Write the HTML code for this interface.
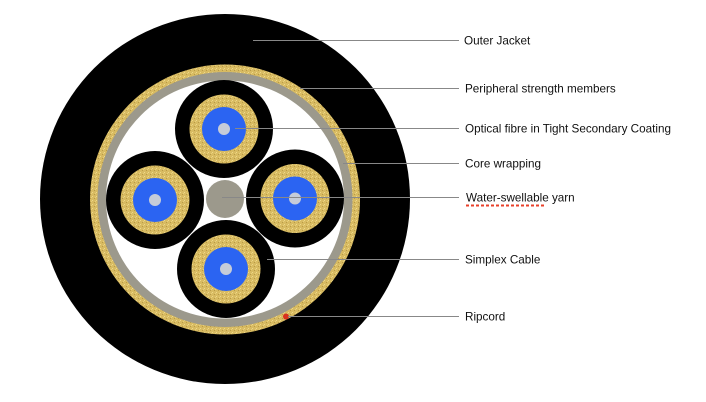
<!DOCTYPE html>
<html><head><meta charset="utf-8"><style>
html,body{margin:0;padding:0;background:#fff;width:706px;height:402px;overflow:hidden}
svg{display:block}
text{font-family:"Liberation Sans",Arial,sans-serif;font-size:11.7px;fill:#111}
</style></head><body>
<svg width="706" height="402" viewBox="0 0 706 402">
<defs>
<pattern id="sand" width="4" height="4" patternUnits="userSpaceOnUse">
<rect width="4" height="4" fill="#d8bb62"/>
<rect x="0" y="0" width="1" height="1" fill="#efd98a"/>
<rect x="2" y="2" width="1" height="1" fill="#b99a45"/>
<rect x="3" y="1" width="1" height="1" fill="#e8cf7a"/>
</pattern>
</defs>
<circle cx="225" cy="199" r="185" fill="#000"/>
<circle cx="225" cy="199.5" r="135" fill="url(#sand)"/>
<circle cx="225" cy="199.5" r="127.5" fill="#9c998c"/>
<circle cx="225" cy="199.5" r="119" fill="#fff"/>
<circle cx="225" cy="199" r="19" fill="#9c998c"/>
<g>
<circle cx="224" cy="129" r="49" fill="#000"/><circle cx="224" cy="129" r="34.5" fill="url(#sand)"/><circle cx="224" cy="129" r="22" fill="#2b64f2"/><circle cx="224" cy="129" r="6" fill="#c6ccd8"/>
<circle cx="155" cy="200" r="49" fill="#000"/><circle cx="155" cy="200" r="34.5" fill="url(#sand)"/><circle cx="155" cy="200" r="22" fill="#2b64f2"/><circle cx="155" cy="200" r="6" fill="#c6ccd8"/>
<circle cx="295" cy="198.5" r="49" fill="#000"/><circle cx="295" cy="198.5" r="34.5" fill="url(#sand)"/><circle cx="295" cy="198.5" r="22" fill="#2b64f2"/><circle cx="295" cy="198.5" r="6" fill="#c6ccd8"/>
<circle cx="226" cy="269" r="49" fill="#000"/><circle cx="226" cy="269" r="34.5" fill="url(#sand)"/><circle cx="226" cy="269" r="22" fill="#2b64f2"/><circle cx="226" cy="269" r="6" fill="#c6ccd8"/>
</g>
<circle cx="286" cy="316.5" r="3" fill="#d8321e"/>
<g stroke="#888" stroke-width="1">
<line x1="253" y1="40.5" x2="459" y2="40.5"/>
<line x1="300" y1="88.5" x2="459" y2="88.5"/>
<line x1="235" y1="128.5" x2="459" y2="128.5"/>
<line x1="343" y1="163.5" x2="459" y2="163.5"/>
<line x1="222" y1="197.5" x2="459" y2="197.5"/>
<line x1="267" y1="259.5" x2="459" y2="259.5"/>
<line x1="288" y1="316.5" x2="459" y2="316.5"/>
</g>
<text x="464" y="44.5">Outer Jacket</text>
<text x="465" y="92.5">Peripheral strength members</text>
<text x="465" y="132.5">Optical fibre in Tight Secondary Coating</text>
<text x="465" y="167.5">Core wrapping</text>
<text x="466" y="201.5">Water-swellable yarn</text>
<line x1="466" y1="205.5" x2="546" y2="205.5" stroke="#e8402a" stroke-width="2" stroke-dasharray="3,2"/>
<text x="465" y="263.5">Simplex Cable</text>
<text x="465" y="320.5">Ripcord</text>
</svg>
</body></html>
